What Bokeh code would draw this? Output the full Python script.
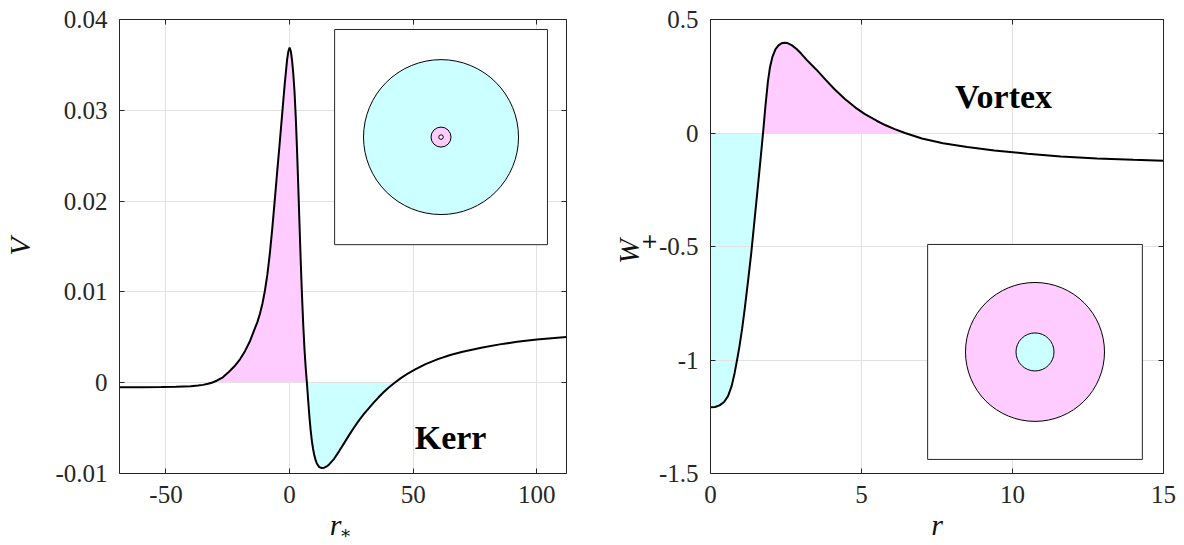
import numpy as np
from bokeh.plotting import figure
from bokeh.layouts import row
from bokeh.models import Range1d, LinearAxis, FixedTicker
from bokeh.core.properties import value
from bokeh.embed import file_html
from bokeh.resources import INLINE

# ---------------- data ----------------
kerr_rstar = [-68.8, -60, -52, -46, -40, -37, -35, -33, -31.5, -29.5, -27, -24.5, -22,
              -20, -18, -16, -14, -13, -12, -11, -10, -9, -8, -7, -6, -5, -4, -3, -2,
              -1, -0.5, 0, 0.5, 1, 1.5, 2, 2.5, 3, 3.5, 4, 4.5, 5, 5.5, 6, 6.5, 7, 7.5,
              8, 8.5, 9, 9.5, 10, 10.5, 11, 12, 13, 14, 15, 16, 18, 20, 22, 24, 26, 28,
              30, 32, 34, 36, 38, 40, 42.5, 45, 48, 51, 55, 60, 65, 70, 78, 85, 92, 100,
              106, 112]
kerr_V = [-0.00050, -0.00049, -0.00047, -0.00044, -0.00038, -0.00031, -0.00024, -0.00012,
          0.0, 0.00022, 0.00060, 0.00120, 0.00190, 0.00260, 0.00350, 0.00460, 0.00600,
          0.00670, 0.00760, 0.00870, 0.01010, 0.01190, 0.01420, 0.01700, 0.02010,
          0.02330, 0.02640, 0.02960, 0.03280, 0.03560, 0.03650, 0.03690, 0.03650,
          0.03550, 0.03400, 0.03200, 0.02920, 0.02570, 0.02170, 0.01750, 0.01340,
          0.00970, 0.00650, 0.00380, 0.00170, 0.0, -0.00190, -0.00370, -0.00520,
          -0.00640, -0.00730, -0.00800, -0.00850, -0.00890, -0.00930, -0.00940,
          -0.00936, -0.00922, -0.00900, -0.00838, -0.00756, -0.00668, -0.00580,
          -0.00496, -0.00418, -0.00346, -0.00282, -0.00220, -0.00161, -0.00106,
          -0.00055, 0.0, 0.00050, 0.00104, 0.00150, 0.00204, 0.00260, 0.00305, 0.00340,
          0.00388, 0.00422, 0.00450, 0.00475, 0.00490, 0.00503]

vortex_r = [0, 0.15, 0.3, 0.45, 0.58, 0.7, 0.8, 0.9, 0.96, 1.05, 1.13, 1.25, 1.35, 1.45,
            1.57, 1.65, 1.74, 1.82, 1.9, 1.97, 2.05, 2.15, 2.25, 2.35, 2.45, 2.55, 2.7,
            2.85, 3.0, 3.2, 3.5, 3.8, 4.1, 4.45, 4.8, 5.1, 5.5, 5.8, 6.1, 6.44, 7.0, 7.7,
            8.5, 9.4, 10.5, 11.6, 12.8, 14.0, 15.0]
vortex_W = [-1.208, -1.207, -1.200, -1.185, -1.159, -1.115, -1.057, -0.985, -0.939,
            -0.860, -0.778, -0.645, -0.528, -0.395, -0.234, -0.125, 0.0, 0.120, 0.225,
            0.290, 0.335, 0.368, 0.386, 0.395, 0.398, 0.396, 0.386, 0.370, 0.350, 0.320,
            0.280, 0.236, 0.194, 0.150, 0.112, 0.084, 0.054, 0.034, 0.017, 0.0, -0.024,
            -0.045, -0.062, -0.077, -0.091, -0.104, -0.112, -0.118, -0.122]

kerr_xticks = [-50, 0, 50, 100]
kerr_xlabels = ["-50", "0", "50", "100"]
kerr_yticks = [-0.01, 0, 0.01, 0.02, 0.03, 0.04]
kerr_ylabels = ["-0.01", "0", "0.01", "0.02", "0.03", "0.04"]
vortex_xticks = [0, 5, 10, 15]
vortex_xlabels = ["0", "5", "10", "15"]
vortex_yticks = [-1.5, -1, -0.5, 0, 0.5]
vortex_ylabels = ["-1.5", "-1", "-0.5", "0", "0.5"]

PINK = "#FFCCFF"
CYAN = "#CCFFFF"

# inset schematics (box in data units of each panel, circle diameters in px)
kerr_inset_box = (18.2, 104.3, 0.0152, 0.0389)
kerr_inset_diams = [155, 20, 4.5]
kerr_inset_fills = [CYAN, PINK, "#FFFFFF"]
vortex_inset_box = (7.19, 14.3, -1.438, -0.491)
vortex_inset_diams = [139, 38]
vortex_inset_fills = [PINK, CYAN]

SERIF = "Liberation Serif"
AX = "#262626"
LBL = "#111111"


def style(p, xt, xl, yt, yl, xlabel, ylabel, ylabel_standoff):
    p.outline_line_color = None
    p.background_fill_color = "white"
    for ax in (p.xaxis[0], p.yaxis[0]):
        ax.major_tick_in = 5
        ax.major_tick_out = 0
        ax.minor_tick_line_color = None
        ax.axis_line_color = AX
        ax.major_tick_line_color = AX
        ax.major_label_text_font = SERIF
        ax.major_label_text_font_size = "25px"
        ax.major_label_text_color = AX
        ax.axis_label_text_font = SERIF
        ax.axis_label_text_font_style = "italic"
        ax.axis_label_text_font_size = "30px"
        ax.axis_label_text_color = LBL
    p.xaxis[0].ticker = FixedTicker(ticks=xt)
    p.yaxis[0].ticker = FixedTicker(ticks=yt)
    p.xaxis[0].major_label_overrides = {t: s for t, s in zip(xt, xl)}
    p.yaxis[0].major_label_overrides = {t: s for t, s in zip(yt, yl)}
    p.xaxis[0].axis_label = xlabel
    p.yaxis[0].axis_label = ylabel
    p.xaxis[0].major_label_standoff = 12
    p.yaxis[0].major_label_standoff = 12
    p.xaxis[0].axis_label_standoff = 2
    p.yaxis[0].axis_label_standoff = ylabel_standoff
    for loc, t in (("above", xt), ("right", yt)):
        a = LinearAxis(ticker=FixedTicker(ticks=t), major_tick_in=5, major_tick_out=0,
                       minor_tick_line_color=None, axis_line_color=AX,
                       major_tick_line_color=AX, major_label_text_font_size="1px",
                       major_label_text_color=None, major_label_standoff=0)
        p.add_layout(a, loc)
    p.xgrid.ticker = FixedTicker(ticks=xt)
    p.ygrid.ticker = FixedTicker(ticks=yt)
    p.grid.grid_line_color = "#e2e2e2"
    p.grid.grid_line_width = 1


def subscript_axis(text, size, standoff):
    # a bare axis whose only visible part is its label: used as a subscript
    return LinearAxis(ticker=FixedTicker(ticks=[]), axis_line_color=None,
                      major_tick_line_color=None, minor_tick_line_color=None,
                      major_label_text_font_size="1px", major_label_text_color=None,
                      major_label_standoff=0, major_tick_in=0, major_tick_out=0,
                      axis_label=text, axis_label_text_font="DejaVu Serif",
                      axis_label_text_font_size=size, axis_label_text_color=LBL,
                      axis_label_standoff=standoff)


# ---------------- left panel: Kerr ----------------
p1 = figure(width=592, height=545, x_range=Range1d(-68.8, 112), y_range=Range1d(-0.01, 0.04),
            output_backend="svg", toolbar_location=None,
            min_border_left=113, min_border_right=26, min_border_top=19, min_border_bottom=72)
style(p1, kerr_xticks, kerr_xlabels, kerr_yticks, kerr_ylabels, "r\u2002", "V", 16)
p1.add_layout(subscript_axis("\u2005\u2217", "18px", -22), "below")

kx = np.asarray(kerr_rstar, float)
kv = np.asarray(kerr_V, float)
kz = np.where(kv == 0.0)[0]
p1.varea(x=kx[kz[0]:kz[1] + 1], y1=0, y2=kv[kz[0]:kz[1] + 1], fill_color=PINK, level="image")
p1.varea(x=kx[kz[1]:kz[2] + 1], y1=0, y2=kv[kz[1]:kz[2] + 1], fill_color=CYAN, level="image")
p1.line(kx, kv, line_color="black", line_width=2)

l, r, b, t = kerr_inset_box
p1.quad(left=[l], right=[r], bottom=[b], top=[t], fill_color="white", line_color=AX, line_width=1)
cx, cy = (l + r) / 2, (b + t) / 2
for d, c in zip(kerr_inset_diams, kerr_inset_fills):
    p1.scatter(x=[cx], y=[cy], size=d, marker="circle", fill_color=c, line_color="black",
               line_width=1)
p1.text(x=[50.6], y=[-0.00605], text=["Kerr"], text_font=value(SERIF), text_font_style="bold",
        text_font_size="34px", text_align="left", text_baseline="alphabetic", text_color="black")

# ---------------- right panel: Vortex ----------------
p2 = figure(width=592, height=545, x_range=Range1d(0, 15), y_range=Range1d(-1.5, 0.5),
            output_backend="svg", toolbar_location=None,
            min_border_left=118, min_border_right=21, min_border_top=19, min_border_bottom=72)
style(p2, vortex_xticks, vortex_xlabels, vortex_yticks, vortex_ylabels, "r", "W\u2004", 11)
p2.add_layout(subscript_axis("\u2002+", "20px", -52), "left")

vx = np.asarray(vortex_r, float)
vw = np.asarray(vortex_W, float)
vz = np.where(vw == 0.0)[0]
p2.varea(x=vx[:vz[0] + 1], y1=0, y2=vw[:vz[0] + 1], fill_color=CYAN, level="image")
p2.varea(x=vx[vz[0]:vz[1] + 1], y1=0, y2=vw[vz[0]:vz[1] + 1], fill_color=PINK, level="image")
p2.line(vx, vw, line_color="black", line_width=2)

l, r, b, t = vortex_inset_box
p2.quad(left=[l], right=[r], bottom=[b], top=[t], fill_color="white", line_color=AX, line_width=1)
cx, cy = (l + r) / 2, (b + t) / 2
for d, c in zip(vortex_inset_diams, vortex_inset_fills):
    p2.scatter(x=[cx], y=[cy], size=d, marker="circle", fill_color=c, line_color="black",
               line_width=1)
p2.text(x=[8.1], y=[0.162], text=["Vortex"], text_font=value(SERIF), text_font_style="bold",
        text_font_size="34px", text_align="left", text_baseline="alphabetic", text_color="black")

layout = row(p1, p2)
open("out.html", "w").write(file_html(layout, INLINE))
